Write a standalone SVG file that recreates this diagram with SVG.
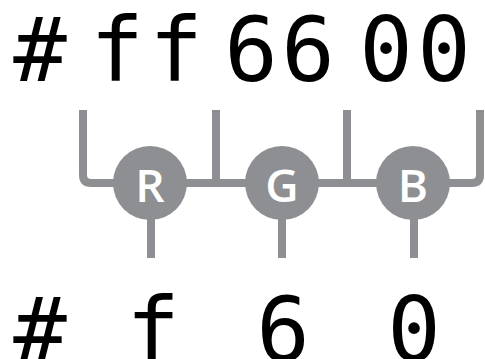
<svg xmlns="http://www.w3.org/2000/svg" width="485" height="359" viewBox="0 0 485 359">
  <style>
    .hex { font-family: "DejaVu Sans Mono", "Liberation Mono", monospace; font-size: 89px; fill: #000; text-anchor: middle; }
    .wire { fill: none; stroke: #8e8f93; stroke-width: 8; stroke-linejoin: round; }
    .chan circle { fill: #8e8f93; }
    .chan text { font-family: "Open Sans", "Liberation Sans", sans-serif; font-size: 46px; font-weight: 600; fill: #fff; text-anchor: middle; }
  </style>
  <rect width="485" height="359" fill="#fff"/>

  <!-- long form -->
  <g id="long">
    <text class="hex" x="40" y="81">#</text>
    <text class="hex" x="117" y="81">f</text>
    <text class="hex" x="176" y="81">f</text>
    <text class="hex" x="251" y="81">6</text>
    <text class="hex" x="308" y="81">6</text>
    <text class="hex" x="386" y="81">0</text>
    <text class="hex" x="444" y="81">0</text>
  </g>

  <!-- brackets and stems -->
  <g id="connectors">
    <path class="wire" d="M83 110 V175 Q83 183 91 183 H472 Q480 183 480 175 V110"/>
    <path class="wire" d="M216 110 V183"/>
    <path class="wire" d="M347 110 V183"/>
    <path class="wire" d="M151 183 V258"/>
    <path class="wire" d="M282 183 V258"/>
    <path class="wire" d="M414 183 V258"/>
  </g>

  <g id="R" class="chan">
    <circle cx="150" cy="183" r="37"/>
    <text x="150" y="202">R</text>
  </g>
  <g id="G" class="chan">
    <circle cx="282" cy="183" r="37"/>
    <text x="282" y="202">G</text>
  </g>
  <g id="B" class="chan">
    <circle cx="413" cy="183" r="37"/>
    <text x="413" y="202">B</text>
  </g>

  <!-- short form -->
  <g id="short">
    <text class="hex" x="40" y="361">#</text>
    <text class="hex" x="153" y="361">f</text>
    <text class="hex" x="283" y="361">6</text>
    <text class="hex" x="414" y="361">0</text>
  </g>
</svg>
